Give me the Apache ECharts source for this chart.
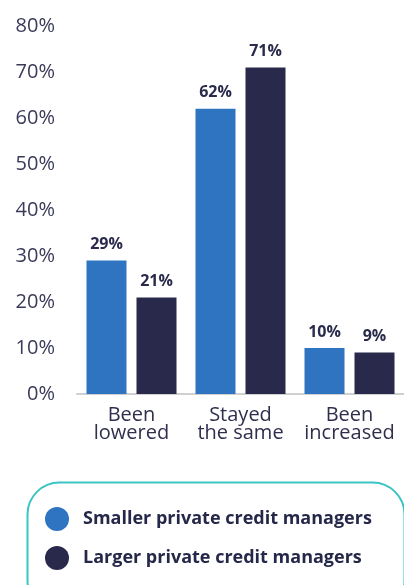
<!DOCTYPE html>
<html><head><meta charset="utf-8">
<script src="https://cdn.jsdelivr.net/npm/echarts@6/dist/echarts.min.js"></script>
<style>html,body{margin:0;padding:0;background:#fff}#c{width:404px;height:585px}</style>
</head><body><div id="c"></div>
<script>
const categories = ['Been\nlowered', 'Stayed\nthe same', 'Been\nincreased'];
const smaller = [29, 62, 10];
const larger = [21, 71, 9];
const seriesNames = ['Smaller private credit managers', 'Larger private credit managers'];
const yTicks = [0, 10, 20, 30, 40, 50, 60, 70, 80];

const chart = echarts.init(document.getElementById('c'), null, {renderer: 'canvas'});
const font = '"Open Sans", "Noto Sans", sans-serif';
const labelStyle = {show: true, position: 'top', distance: 8, formatter: '{c}%', fontFamily: font, fontWeight: 'bold', fontSize: 16, color: '#2a2a4c'};
chart.setOption({
  animation: false,
  grid: {left: 77, right: -3, top: 26, bottom: 191, containLabel: false},
  xAxis: {
    type: 'category', data: categories,
    axisLine: {lineStyle: {color: '#d0d0d0', width: 2}},
    axisTick: {show: false},
    axisLabel: {interval: 0, hideOverlap: false, fontFamily: font, fontSize: 20, color: '#2f2f4d', lineHeight: 18, margin: 12}
  },
  yAxis: {
    type: 'value', min: yTicks[0], max: yTicks[yTicks.length - 1], interval: 10,
    splitLine: {show: false}, axisLine: {show: false}, axisTick: {show: false},
    axisLabel: {formatter: '{value}%', fontFamily: font, fontSize: 20, color: '#3a3a5a', margin: 22}
  },
  legend: {
    orient: 'vertical', left: 45, top: 507, padding: 0, icon: 'circle', itemWidth: 24, itemHeight: 24, itemGap: 15,
    textStyle: {fontFamily: font, fontWeight: 'bold', fontSize: 18, color: '#26284a', padding: [0, 0, 0, 9]},
    data: seriesNames
  },
  graphic: [{
    type: 'rect', left: 25, top: 480,
    shape: {width: 377, height: 130, r: 32},
    style: {fill: 'none', stroke: '#3cc4c4', lineWidth: 2}
  }],
  series: [
    {name: seriesNames[0], type: 'bar', data: smaller, barWidth: 40, barGap: '25%', itemStyle: {color: '#2e74c0'}, label: labelStyle},
    {name: seriesNames[1], type: 'bar', data: larger, barWidth: 40, itemStyle: {color: '#29294b'}, label: labelStyle}
  ]
});
</script></body></html>
